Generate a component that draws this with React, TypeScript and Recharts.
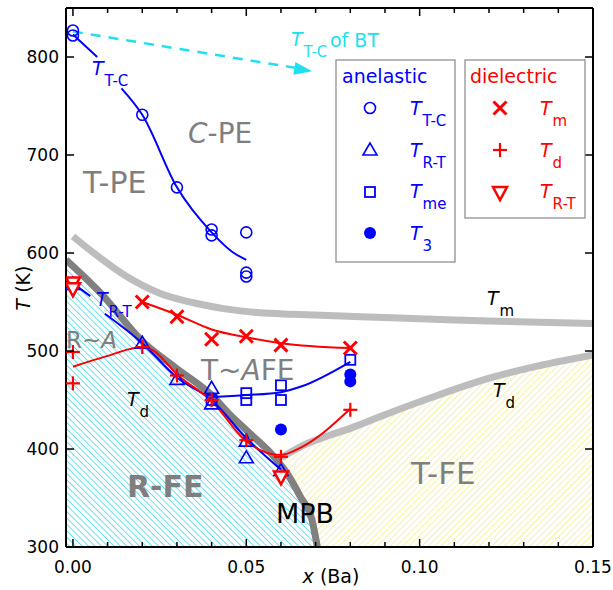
import React from 'react';
import { Area, ComposedChart, Line, Scatter, XAxis, YAxis } from 'recharts';

type P = [number, number | null];

// anelastic measurements
const ttcAnelastic: P[] = [[0, 827], [0, 822], [0.02, 741], [0.03, 667], [0.04, 624], [0.04, 618], [0.05, 621], [0.05, 580], [0.05, 576]];
const trtAnelastic: P[] = [[0, 568], [0.02, 508], [0.03, 471], [0.04, 462], [0.04, 446], [0.05, 408], [0.05, 391], [0.06, 378]];
const tmeAnelastic: P[] = [[0.04, 450], [0.05, 457], [0.05, 450], [0.06, 465], [0.06, 450], [0.08, 491]];
const t3Anelastic: P[] = [[0.06, 420], [0.08, 476], [0.08, 469]];

// dielectric measurements
const tmDielectric: P[] = [[0.02, 550], [0.03, 535], [0.04, 512], [0.05, 515], [0.06, 506], [0.08, 503]];
const tdDielectric: P[] = [[0, 499], [0, 467], [0.02, 504], [0.03, 475], [0.04, 450], [0.05, 409], [0.06, 392], [0.08, 440]];
const trtDielectric: P[] = [[0, 569], [0, 563], [0.06, 371]];

// guide curves drawn through the points (null = gap for a label)
const ttcCurve: P[] = [[0, 823], [0.007, 800], [0.0105, null], [0.014, 768], [0.02, 741], [0.03, 667], [0.04, 621], [0.046, 601], [0.05, 593]];
const trtCurve: P[] = [[0, 569], [0.005, 556], [0.007, null], [0.0092, 538], [0.02, 508], [0.03, 473], [0.04, 450], [0.05, 411], [0.06, 379]];
const tmeCurve: P[] = [[0.04, 453], [0.05, 455], [0.06, 458], [0.066, 464], [0.08, 489]];
const tmCurve: P[] = [[0.02, 550], [0.03, 537], [0.04, 522], [0.05, 514], [0.06, 508], [0.08, 503]];
const tdCurve: P[] = [[0, 484], [0.01, 495], [0.02, 504], [0.023, 501], [0.03, 476], [0.04, 449], [0.05, 408], [0.056, 396], [0.06, 394], [0.066, 402], [0.08, 441]];

// phase boundaries (grey bands)
const tmBand: P[] = [[0, 617], [0.006, 600], [0.0155, 576], [0.025, 559], [0.035, 549], [0.044, 543], [0.054, 539], [0.0635, 537.5], [0.083, 535], [0.1, 533], [0.12, 530.5], [0.15, 528]];
const tdBand: P[] = [[0.06, 391], [0.066, 403], [0.074, 414], [0.08, 421], [0.09, 435], [0.103, 452], [0.117, 469], [0.132, 483], [0.15, 496]];
const mpbBand: P[] = [[-0.002, 593], [0.008, 559], [0.02, 510], [0.03, 482], [0.04, 455], [0.045, 436], [0.051, 416], [0.057, 396], [0.0616, 376], [0.0655, 352], [0.069, 327], [0.0705, 300]];
const tfeRegion: [number, number, number][] = [[0.061, 380, 392], [0.0655, 352, 402], [0.069, 327, 409], [0.0705, 300, 411], [0.074, 300, 414], [0.08, 300, 421], [0.09, 300, 435], [0.103, 300, 452], [0.117, 300, 469], [0.132, 300, 483], [0.15, 300, 496]];

// BT arrow
const btArrow: P[] = [[0, 826], [0.064, 789]];
const btArrowTip: P[] = [[0.069, 785.5]];

const X_TICKS = [0, 0.01, 0.02, 0.03, 0.04, 0.05, 0.06, 0.07, 0.08, 0.09, 0.1, 0.11, 0.12, 0.13, 0.14, 0.15];
const Y_TICKS = [300, 400, 500, 600, 700, 800];

const pts = (a: P[]) => a.map(([x, y]) => ({ x, y }));
const rfeRegion = mpbBand.map(([x, y]) => ({ x, r: [300, y] }));
const tfeFill = tfeRegion.map(([x, lo, hi]) => ({ x, r: [lo, hi] }));

const BLUE = '#0000ff';
const RED = '#ff0000';
const CYAN = '#20e0f0';
const GREY_TXT = '#7f7f7f';
const FONT = "'DejaVu Sans', sans-serif";

const OpenCircle = (p: any) => <circle cx={p.cx} cy={p.cy} r={5.5} fill="none" stroke={BLUE} strokeWidth={1.6} />;
const OpenTri = (p: any) => (
  <polygon points={`${p.cx},${p.cy - 7} ${p.cx - 7},${p.cy + 5} ${p.cx + 7},${p.cy + 5}`} fill="none" stroke={BLUE} strokeWidth={1.6} />
);
const OpenSquare = (p: any) => <rect x={p.cx - 5} y={p.cy - 5} width={10} height={10} fill="none" stroke={BLUE} strokeWidth={1.8} />;
const Dot = (p: any) => <circle cx={p.cx} cy={p.cy} r={6} fill={BLUE} />;
const Cross = (p: any) => (
  <g stroke={RED} strokeWidth={3}>
    <line x1={p.cx - 6.5} y1={p.cy - 6.5} x2={p.cx + 6.5} y2={p.cy + 6.5} />
    <line x1={p.cx - 6.5} y1={p.cy + 6.5} x2={p.cx + 6.5} y2={p.cy - 6.5} />
  </g>
);
const Plus = (p: any) => (
  <g stroke={RED} strokeWidth={2.2}>
    <line x1={p.cx - 7} y1={p.cy} x2={p.cx + 7} y2={p.cy} />
    <line x1={p.cx} y1={p.cy - 7} x2={p.cx} y2={p.cy + 7} />
  </g>
);
const DownTri = (p: any) => (
  <polygon points={`${p.cx - 7},${p.cy - 6} ${p.cx + 7},${p.cy - 6} ${p.cx},${p.cy + 7}`} fill="#fff" stroke={RED} strokeWidth={2.5} strokeLinejoin="miter" />
);
const ArrowHead = (p: any) => (
  <polygon points={`${p.cx},${p.cy} ${p.cx - 18},${p.cy - 6.5} ${p.cx - 18},${p.cy + 6.5}`} fill={CYAN} transform={`rotate(9 ${p.cx} ${p.cy})`} />
);

const isMajorX = (v: number) => Math.abs(v * 20 - Math.round(v * 20)) < 1e-6;

const BottomTick = (p: any) => {
  const v = p.payload.value;
  const major = isMajorX(v);
  return (
    <g>
      <line x1={p.x} x2={p.x} y1={p.y} y2={p.y - (major ? 8 : 5)} stroke="#000" strokeWidth={1.5} />
      {major && (
        <text x={p.x} y={p.y + 26} textAnchor="middle" fontSize={17} fontFamily={FONT} fill="#000">
          {v.toFixed(2)}
        </text>
      )}
    </g>
  );
};
const TopTick = (p: any) => {
  const major = isMajorX(p.payload.value);
  return <line x1={p.x} x2={p.x} y1={p.y} y2={p.y + (major ? 8 : 5)} stroke="#000" strokeWidth={1.5} />;
};
const LeftTick = (p: any) => (
  <g>
    <line x1={p.x} x2={p.x + 8} y1={p.y} y2={p.y} stroke="#000" strokeWidth={1.5} />
    <text x={p.x - 7} y={p.y + 6} textAnchor="end" fontSize={17} fontFamily={FONT} fill="#000">
      {p.payload.value}
    </text>
  </g>
);
const RightTick = (p: any) => <line x1={p.x} x2={p.x - 8} y1={p.y} y2={p.y} stroke="#000" strokeWidth={1.5} />;

const TSub = ({ x, y, sub, color, size = 19, subSize = 15 }: any) => (
  <text x={x} y={y} fill={color} fontSize={size} fontFamily={FONT}>
    <tspan fontStyle="italic">T</tspan>
    <tspan dy={11} dx={1} fontSize={subSize}>{sub}</tspan>
  </text>
);

const Overlay = () => (
  <svg width={613} height={590} style={{ position: 'absolute', left: 0, top: 0, pointerEvents: 'none' }}>
    {/* region names */}
    <text x={188} y={143} fontSize={28} fill={GREY_TXT} fontFamily={FONT}><tspan fontStyle="italic">C</tspan>-PE</text>
    <text x={83} y={193} fontSize={30} fill={GREY_TXT} fontFamily={FONT}>T-PE</text>
    <text x={201} y={380} fontSize={28} fill={GREY_TXT} fontFamily={FONT}>T~<tspan fontStyle="italic">A</tspan>FE</text>
    <text x={66} y={348} fontSize={23} fill={GREY_TXT} fontFamily={FONT}>R~<tspan fontStyle="italic">A</tspan></text>
    <text x={127} y={497} fontSize={30} fontWeight="bold" fill={GREY_TXT} fontFamily={FONT}>R-FE</text>
    <text x={411} y={484} fontSize={31} fill={GREY_TXT} fontFamily={FONT}>T-FE</text>
    <text x={276} y={523} fontSize={27} fill="#000" fontFamily={FONT}>MPB</text>

    <TSub x={92} y={75} sub="T-C" color={BLUE} />
    <TSub x={96} y={306} sub="R-T" color={BLUE} />
    <TSub x={127} y={406} sub="d" color="#000" />
    <TSub x={487} y={305} sub="m" color="#000" />
    <TSub x={493} y={397} sub="d" color="#000" />
    <TSub x={291} y={46} sub="T-C" color={CYAN} />
    <text x={330} y={47} fontSize={19} fill={CYAN} fontFamily={FONT}>of BT</text>

    {/* anelastic legend */}
    <rect x={336} y={60} width={119} height={202} fill="#fff" stroke="#888" strokeWidth={1.2} />
    <text x={342} y={83} fontSize={19} fill={BLUE} fontFamily={FONT}>anelastic</text>
    <OpenCircle cx={370} cy={108} />
    <OpenTri cx={370} cy={150} />
    <OpenSquare cx={370} cy={192} />
    <Dot cx={370} cy={233} />
    <TSub x={410} y={115} sub="T-C" color={BLUE} />
    <TSub x={410} y={157} sub="R-T" color={BLUE} />
    <TSub x={410} y={198} sub="me" color={BLUE} />
    <TSub x={410} y={240} sub="3" color={BLUE} />

    {/* dielectric legend */}
    <rect x={465} y={60} width={120} height={158} fill="#fff" stroke="#888" strokeWidth={1.2} />
    <text x={470} y={83} fontSize={19} fill={RED} fontFamily={FONT}>dielectric</text>
    <Cross cx={500} cy={108} />
    <Plus cx={500} cy={150} />
    <DownTri cx={500} cy={193} />
    <TSub x={540} y={115} sub="m" color={RED} />
    <TSub x={540} y={157} sub="d" color={RED} />
    <TSub x={540} y={198} sub="R-T" color={RED} />

    {/* axis titles */}
    <text x={30} y={288} fontSize={19} fontFamily={FONT} textAnchor="middle" transform="rotate(-90 30 288)">
      <tspan fontStyle="italic">T</tspan> (K)
    </text>
    <text x={331} y={583} fontSize={19} fontFamily={FONT} textAnchor="middle">
      <tspan fontStyle="italic">x</tspan> (Ba)
    </text>
  </svg>
);

export default function App() {
  return (
    <div style={{ position: 'absolute', left: 0, top: 0, width: 613, height: 590, background: '#fff' }}>
      <ComposedChart width={613} height={590} margin={{ top: 8, right: 20, bottom: 13, left: 6 }}>
        <defs>
          <pattern id="hatchCyan" width={4.5} height={4.5} patternUnits="userSpaceOnUse" patternTransform="rotate(-45)">
            <line x1={0} y1={0} x2={0} y2={4.5} stroke="#3fd6e8" strokeWidth={1.5} />
          </pattern>
          <pattern id="hatchYellow" width={4.5} height={4.5} patternUnits="userSpaceOnUse" patternTransform="rotate(45)">
            <line x1={0} y1={0} x2={0} y2={4.5} stroke="#f2e874" strokeWidth={1.2} />
          </pattern>
        </defs>

        <Area data={rfeRegion} dataKey="r" type="monotone" stroke="none" fill="url(#hatchCyan)" fillOpacity={1} isAnimationActive={false} />
        <Area data={tfeFill} dataKey="r" type="monotone" stroke="none" fill="url(#hatchYellow)" fillOpacity={1} isAnimationActive={false} />

        <Line data={pts(tmBand)} dataKey="y" type="monotone" stroke="#bdbdbd" strokeWidth={7} dot={false} isAnimationActive={false} />
        <Line data={pts(tdBand)} dataKey="y" type="monotone" stroke="#bdbdbd" strokeWidth={7} dot={false} isAnimationActive={false} />
        <Line data={pts(mpbBand)} dataKey="y" type="monotone" stroke="#808080" strokeWidth={7} dot={false} isAnimationActive={false} />

        <Line data={pts(btArrow)} dataKey="y" stroke={CYAN} strokeWidth={2.5} strokeDasharray="10 8" dot={false} isAnimationActive={false} />
        <Scatter data={pts(btArrowTip)} dataKey="y" shape={ArrowHead} isAnimationActive={false} />

        <Line data={pts(ttcCurve)} dataKey="y" type="monotone" stroke={BLUE} strokeWidth={2} dot={false} connectNulls={false} isAnimationActive={false} />
        <Line data={pts(trtCurve)} dataKey="y" type="monotone" stroke={BLUE} strokeWidth={2} dot={false} connectNulls={false} isAnimationActive={false} />
        <Line data={pts(tmeCurve)} dataKey="y" type="monotone" stroke={BLUE} strokeWidth={2} dot={false} isAnimationActive={false} />
        <Line data={pts(tdCurve)} dataKey="y" type="monotone" stroke={RED} strokeWidth={2} dot={false} isAnimationActive={false} />
        <Line data={pts(tmCurve)} dataKey="y" type="monotone" stroke={RED} strokeWidth={2} dot={false} isAnimationActive={false} />

        <Scatter data={pts(ttcAnelastic)} dataKey="y" shape={OpenCircle} isAnimationActive={false} />
        <Scatter data={pts(trtAnelastic)} dataKey="y" shape={OpenTri} isAnimationActive={false} />
        <Scatter data={pts(tmeAnelastic)} dataKey="y" shape={OpenSquare} isAnimationActive={false} />
        <Scatter data={pts(t3Anelastic)} dataKey="y" shape={Dot} isAnimationActive={false} />
        <Scatter data={pts(tmDielectric)} dataKey="y" shape={Cross} isAnimationActive={false} />
        <Scatter data={pts(tdDielectric)} dataKey="y" shape={Plus} isAnimationActive={false} />
        <Scatter data={pts(trtDielectric)} dataKey="y" shape={DownTri} isAnimationActive={false} />

        <XAxis dataKey="x" type="number" domain={[-0.002, 0.15]} allowDataOverflow ticks={X_TICKS} interval={0} height={30}
          tickSize={0} tickMargin={0} tickLine={false} tick={BottomTick} axisLine={{ stroke: '#000', strokeWidth: 2 }} />
        <XAxis xAxisId="top" orientation="top" mirror dataKey="x" type="number" domain={[-0.002, 0.15]} allowDataOverflow ticks={X_TICKS} interval={0}
          tickSize={0} tickMargin={0} tickLine={false} tick={TopTick} axisLine={{ stroke: '#000', strokeWidth: 2 }} />
        <YAxis type="number" domain={[300, 850]} allowDataOverflow ticks={Y_TICKS} interval={0} width={60}
          tickSize={0} tickMargin={0} tickLine={false} tick={LeftTick} axisLine={{ stroke: '#000', strokeWidth: 2 }} />
        <YAxis yAxisId="right" orientation="right" mirror type="number" domain={[300, 850]} allowDataOverflow ticks={Y_TICKS} interval={0}
          tickSize={0} tickMargin={0} tickLine={false} tick={RightTick} axisLine={{ stroke: '#000', strokeWidth: 2 }} />
      </ComposedChart>
      <Overlay />
    </div>
  );
}
